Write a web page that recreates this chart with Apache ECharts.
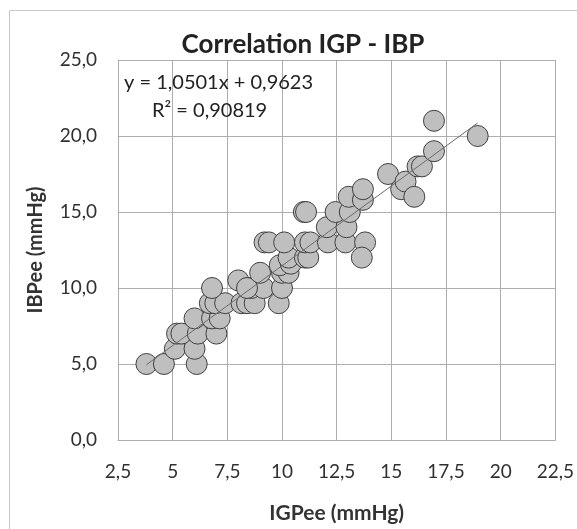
<!DOCTYPE html>
<html>
<head>
<meta charset="utf-8">
<script src="https://cdn.jsdelivr.net/npm/echarts@6/dist/echarts.min.js"></script>
<style>html,body{margin:0;padding:0;background:#fff;}#c{width:577px;height:529px;}</style>
</head>
<body>
<div id="c"></div>
<script>
// IGPee (x) values
const igpValues = [3.8,4.6,6.1,5.1,6.0,5.2,5.4,6.15,7.0,6.0,6.8,7.15,6.7,6.95,7.4,8.15,8.4,8.75,9.85,
  6.8,8.6,9.15,10.0,8.0,8.4,9.0,10.0,10.3,9.9,10.4,10.3,11.05,11.2,
  9.2,9.4,10.1,11.05,11.3,12.1,12.9,13.8,13.65,12.05,12.95,11.0,11.1,12.45,13.1,
  13.05,13.7,13.7,14.85,15.45,15.65,16.05,16.2,16.4,16.95,16.95,18.95];
// IBPee (y) values
const ibpValues = [5,5,5,6,6,7,7,7,7,8,8,8,9,9,9,9,9,9,9,
  10,10,10,10,10.5,10,11,11,11,11.5,11.6,12,12,12,
  13,13,13,13,13,13,13,13,12,14,14,15,15,15,15,
  16,15.8,16.5,17.5,16.5,17,16,18,18,19,21,20];
// trendline endpoints (Excel linear trendline)
const trendX = [3.8, 18.95];
const trendY = [4.95, 20.86];
const xTickLabels = {2.5:'2,5',5:'5',7.5:'7,5',10:'10',12.5:'12,5',15:'15',17.5:'17,5',20:'20',22.5:'22,5'};
const yTickLabels = {0:'0,0',5:'5,0',10:'10,0',15:'15,0',20:'20,0',25:'25,0'};
const titleText = 'Correlation IGP - IBP';
const eqLine1 = 'y = 1,0501x + 0,9623';
const eqLine2 = 'R² = 0,90819';
const xName = 'IGPee (mmHg)';
const yName = 'IBPee (mmHg)';

const points = igpValues.map((x,i)=>[x, ibpValues[i]]);
const trend = trendX.map((x,i)=>[x, trendY[i]]);
const FONT = 'Lato';
const chart = echarts.init(document.getElementById('c'), null, {renderer:'canvas'});
chart.setOption({
  animation:false,
  backgroundColor:'#fff',
  textStyle:{fontFamily:FONT},
  title:{text:titleText, left:298, top:27, textAlign:'center',
    textStyle:{fontFamily:FONT, fontWeight:'bold', fontSize:26, color:'#222'}},
  grid:{left:118, right:21, top:60, bottom:76},
  xAxis:{type:'value', min:2.5, max:22.5, interval:2.5,
    name:xName, nameLocation:'middle', nameGap:63,
    nameTextStyle:{fontFamily:FONT, fontWeight:'bold', fontSize:21, color:'#333'},
    axisLine:{show:true, lineStyle:{color:'#adadad', width:1}},
    axisTick:{show:false},
    axisLabel:{margin:22, fontSize:19, color:'#303030', fontFamily:FONT,
      formatter:v=>xTickLabels[v] ?? String(v)},
    splitLine:{show:true, lineStyle:{color:'#adadad', width:1}}},
  yAxis:{type:'value', min:0, max:25, interval:5,
    name:yName, nameLocation:'middle', nameGap:72, nameRotate:90,
    nameTextStyle:{fontFamily:FONT, fontWeight:'bold', fontSize:20, color:'#333'},
    axisLine:{show:true, lineStyle:{color:'#adadad', width:1}},
    axisTick:{show:false},
    axisLabel:{margin:21, fontSize:19, color:'#303030', fontFamily:FONT,
      formatter:v=>yTickLabels[v] ?? String(v)},
    splitLine:{show:true, lineStyle:{color:'#adadad', width:1}}},
  graphic:[
    {type:'rect', shape:{x:9.5, y:10.5, width:620, height:620}, silent:true, z:-10,
      style:{fill:'none', stroke:'#c8c8c8', lineWidth:1}},
    {type:'text', left:124, top:73, z:100,
      style:{text:eqLine1, font:'20px '+FONT, fill:'#222'}},
    {type:'text', left:152, top:101, z:100,
      style:{text:eqLine2, font:'20px '+FONT, fill:'#222'}}
  ],
  series:[
    {type:'scatter', data:points, symbol:'circle', symbolSize:21,
      itemStyle:{color:'#bfbfbf', borderColor:'#404040', borderWidth:1, opacity:1}, z:2},
    {type:'line', data:trend, symbol:'none', lineStyle:{color:'#6b6b6b', width:1}, z:3}
  ]
});
</script>
</body>
</html>
